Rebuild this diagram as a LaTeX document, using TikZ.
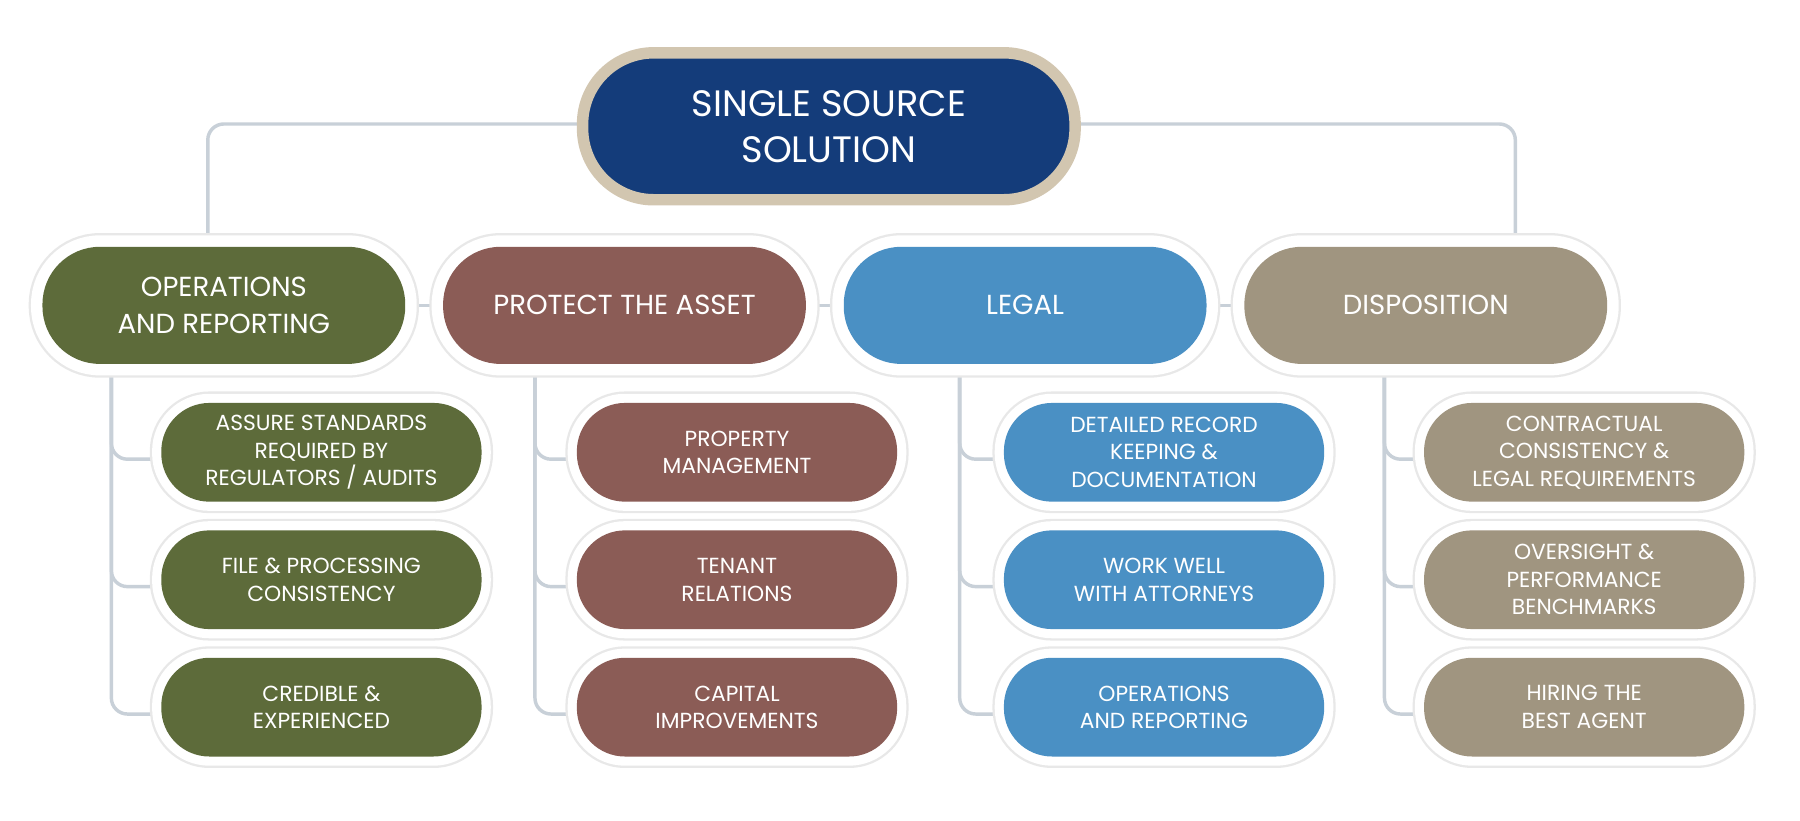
\documentclass[tikz,border=0pt]{standalone}
\usepackage{fontspec}
\setmainfont{Poppins}
\usetikzlibrary{calc}
\definecolor{olive}{HTML}{5D6B3A}
\definecolor{maroon}{HTML}{8B5C56}
\definecolor{lblue}{HTML}{4A90C4}
\definecolor{taupe}{HTML}{A09580}
\definecolor{navy}{HTML}{143C7A}
\definecolor{beige}{HTML}{D2C6B0}
\definecolor{conn}{HTML}{C8D0D8}
\begin{document}
\begin{tikzpicture}[x=1pt,y=-1pt,
  base/.style={text=white,align=center,inner sep=0pt},
  lvl/.style={base,font=\fontsize{24}{33}\selectfont,fill=#1,minimum width=316pt,minimum height=102pt,rounded corners=50pt,
     preaction={draw=gray!18,line width=24pt,rounded corners=50pt},
     preaction={draw=white,line width=20pt,rounded corners=50pt}},
  kid/.style={base,font=\fontsize{19}{24}\selectfont,fill=#1,minimum width=279pt,minimum height=86pt,rounded corners=42pt,
     preaction={draw=gray!18,line width=20pt,rounded corners=42pt},
     preaction={draw=white,line width=16pt,rounded corners=42pt}},
  ln/.style={draw=conn,line width=3pt,rounded corners=14pt}]
\useasboundingbox (0,0) rectangle (1568,715);
\fill[white] (0,0) rectangle (1568,715);
\coordinate (tl) at (181,205);
\coordinate (tr) at (1320,205);
\draw[ln] (722,108) -| (tl);
\draw[ln] (722,108) -| (tr);
\draw[ln,rounded corners=0] (195,266) -- (1242,266);
\foreach \x in {97,466,836,1206}{
  \draw[ln] (\x,320) |- (\x+40,400);
  \draw[ln] (\x,320) |- (\x+40,511);
  \draw[ln] (\x,320) |- (\x+40,622);
}
\node[base,font=\fontsize{32}{40}\selectfont,fill=navy,draw=beige,line width=10pt,minimum width=429pt,minimum height=128pt,rounded corners=62pt] (top) at (722,110) {SINGLE SOURCE\\SOLUTION};
\node[lvl=olive] (ops) at (195,266) {OPERATIONS\\AND REPORTING};
\node[lvl=maroon] (pro) at (544,266) {PROTECT THE ASSET};
\node[lvl=lblue] (leg) at (893,266) {LEGAL};
\node[lvl=taupe] (dis) at (1242,266) {DISPOSITION};
\node[kid=olive] (o1) at (280,394) {ASSURE STANDARDS\\REQUIRED BY\\REGULATORS / AUDITS};
\node[kid=olive] (o2) at (280,505) {FILE \& PROCESSING\\CONSISTENCY};
\node[kid=olive] (o3) at (280,616) {CREDIBLE \&\\EXPERIENCED};
\node[kid=maroon] (p1) at (642,394) {PROPERTY\\MANAGEMENT};
\node[kid=maroon] (p2) at (642,505) {TENANT\\RELATIONS};
\node[kid=maroon] (p3) at (642,616) {CAPITAL\\IMPROVEMENTS};
\node[kid=lblue] (l1) at (1014,394) {DETAILED RECORD\\KEEPING \&\\DOCUMENTATION};
\node[kid=lblue] (l2) at (1014,505) {WORK WELL\\WITH ATTORNEYS};
\node[kid=lblue] (l3) at (1014,616) {OPERATIONS\\AND REPORTING};
\node[kid=taupe] (d1) at (1380,394) {CONTRACTUAL\\CONSISTENCY \&\\LEGAL REQUIREMENTS};
\node[kid=taupe] (d2) at (1380,505) {OVERSIGHT \&\\PERFORMANCE\\BENCHMARKS};
\node[kid=taupe] (d3) at (1380,616) {HIRING THE\\BEST AGENT};
\end{tikzpicture}
\end{document}
